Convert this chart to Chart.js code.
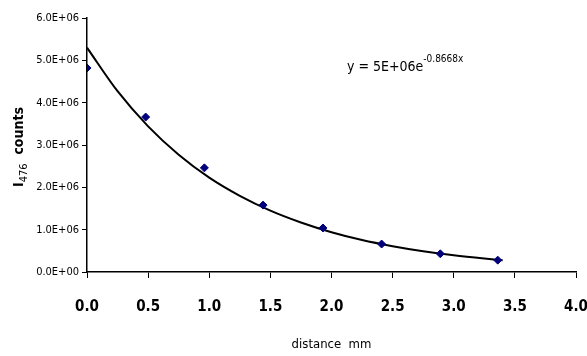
<!DOCTYPE html>
<html>
<head>
<meta charset="utf-8">
<script src="https://cdn.jsdelivr.net/npm/chart.js@4.4.0/dist/chart.umd.min.js"></script>
<style>
  body { margin: 0; background: #fff; }
  #wrap { width: 587px; height: 356px; }
</style>
</head>
<body>
<div id="wrap"><canvas id="myChart" width="587" height="356"></canvas></div>
<script>
// measured points
const distance = [0.0, 0.48, 0.96, 1.44, 1.93, 2.41, 2.89, 3.36];
const counts = [4.82e6, 3.66e6, 2.46e6, 1.58e6, 1.04e6, 0.66e6, 0.43e6, 0.28e6];

// trend line
const trendX = [0, 0.25, 0.5, 0.75, 1.0, 1.25, 1.5, 1.75, 2.0, 2.25, 2.5, 2.75, 3.0, 3.25, 3.4];
const trendY = [5.3e6, 4.27e6, 3.44e6, 2.77e6, 2.23e6, 1.80e6, 1.45e6, 1.17e6, 0.94e6, 0.755e6, 0.61e6, 0.49e6, 0.394e6, 0.318e6, 0.279e6];

const xTickLabels = ['0.0', '0.5', '1.0', '1.5', '2.0', '2.5', '3.0', '3.5', '4.0'];
const yTickLabels = ['0.0E+00', '1.0E+06', '2.0E+06', '3.0E+06', '4.0E+06', '5.0E+06', '6.0E+06'];

const narrow = '"DejaVu Sans Condensed", "Liberation Sans Narrow", sans-serif';

// y axis title with subscript, and the equation label
const extraText = {
    id: 'extraText',
    afterDraw(chart) {
        const ctx = chart.ctx;
        ctx.save();
        ctx.fillStyle = '#000';
        ctx.textBaseline = 'alphabetic';

        // y title
        ctx.save();
        ctx.translate(23, 147);
        ctx.rotate(-Math.PI / 2);
        let parts = [['I', 'bold 14px ' + narrow, 0], ['476', '11px ' + narrow, 4], ['  counts', 'bold 14px ' + narrow, 0]];
        let total = 0;
        parts.forEach(p => { ctx.font = p[1]; total += ctx.measureText(p[0]).width; });
        let cx = -total / 2;
        parts.forEach(p => {
            ctx.font = p[1];
            ctx.fillText(p[0], cx, p[2]);
            cx += ctx.measureText(p[0]).width;
        });
        ctx.restore();

        // equation
        ctx.font = '14px ' + narrow;
        ctx.fillText('y = 5E+06e', 347, 71);
        let w = ctx.measureText('y = 5E+06e').width;
        ctx.font = '10px ' + narrow;
        ctx.fillText('-0.8668x', 347 + w, 62);

        ctx.restore();
    }
};

var myChart = new Chart('myChart', {
    type: 'scatter',
    data: {
        datasets: [
            {
                label: 'trend',
                data: trendX.map((x, i) => ({ x: x, y: trendY[i] })),
                showLine: true,
                borderColor: '#000',
                borderWidth: 2,
                pointRadius: 0,
                cubicInterpolationMode: 'monotone',
                order: 2
            },
            {
                label: 'counts',
                data: distance.map((x, i) => ({ x: x, y: counts[i] })),
                pointStyle: 'rectRot',
                pointRadius: 4,
                backgroundColor: '#00007a',
                borderColor: '#00007a',
                order: 1
            }
        ]
    },
    options: {
        responsive: false,
        animation: false,
        layout: { padding: { top: 18, right: 11, left: 0, bottom: 0 } },
        plugins: { legend: { display: false }, tooltip: { enabled: false } },
        scales: {
            x: {
                type: 'linear',
                min: 0,
                max: 4,
                afterFit(s) { s.height = 84; s.paddingLeft = 0; s.paddingRight = 0; },
                afterBuildTicks(s) { s.ticks = xTickLabels.map(v => ({ value: parseFloat(v) })); },
                grid: { drawOnChartArea: false, tickLength: 6, color: '#000', tickColor: '#000' },
                border: { color: '#000', width: 1.5 },
                ticks: {
                    padding: 20,
                    color: '#000',
                    maxRotation: 0,
                    font: { family: narrow, size: 15, weight: 'bold' },
                    callback: (v, i) => xTickLabels[i]
                },
                title: {
                    display: true,
                    text: 'distance  mm',
                    color: '#000',
                    font: { family: narrow, size: 13 },
                    padding: { top: 12 }
                }
            },
            y: {
                min: 0,
                max: 6e6,
                afterFit(s) { s.width = 87; },
                afterBuildTicks(s) { s.ticks = yTickLabels.map((v, i) => ({ value: i * 1e6 })); },
                grid: { drawOnChartArea: false, tickLength: 5, color: '#000', tickColor: '#000' },
                border: { color: '#000', width: 1.5 },
                ticks: {
                    padding: 3,
                    color: '#000',
                    font: { family: narrow, size: 11 },
                    callback: (v, i) => yTickLabels[i]
                }
            }
        }
    },
    plugins: [extraText]
});
</script>
</body>
</html>
